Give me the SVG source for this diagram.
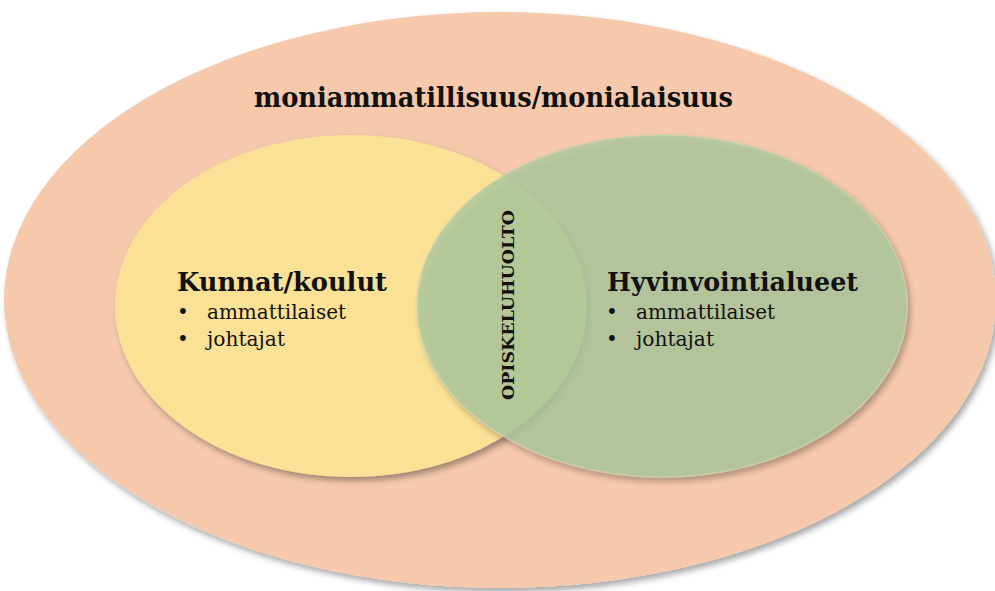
<svg xmlns="http://www.w3.org/2000/svg" width="995" height="591" viewBox="0 0 995 591">
<defs>
<filter id="sh" x="-10%" y="-10%" width="125%" height="125%">
<feGaussianBlur in="SourceAlpha" stdDeviation="3"/>
<feOffset dx="3" dy="4" result="b"/>
<feComponentTransfer><feFuncA type="linear" slope="0.35"/></feComponentTransfer>
<feMerge><feMergeNode/><feMergeNode in="SourceGraphic"/></feMerge>
</filter>
<style>
.t{font-family:"DejaVu Serif","Liberation Serif",serif;fill:#111;}
.b{font-weight:bold;}
.item{font-size:20px;}
</style>
</defs>
<rect width="995" height="591" fill="#ffffff"/>
<g id="outer">
<ellipse cx="500" cy="300" rx="496" ry="288" fill="#F6C9AC" filter="url(#sh)"/>
<text class="t b" x="254" y="107" font-size="27" textLength="479" lengthAdjust="spacingAndGlyphs">moniammatillisuus/monialaisuus</text>
</g>
<g id="kunnat">
<ellipse cx="351" cy="306" rx="236" ry="171" fill="#FBE196" filter="url(#sh)"/>
</g>
<g id="hyvinvointi">
<ellipse cx="662" cy="306" rx="245" ry="171" fill="#ACC99F" fill-opacity="0.8" stroke="#C8D6B0" stroke-opacity="0.6" stroke-width="1.5" filter="url(#sh)"/>
</g>
<g id="labels-kunnat">
<text class="t b" x="177" y="291" font-size="26" textLength="210" lengthAdjust="spacingAndGlyphs">Kunnat/koulut</text>
<text class="t item" x="177" y="319">•</text>
<text class="t item" x="207" y="319" textLength="139" lengthAdjust="spacingAndGlyphs">ammattilaiset</text>
<text class="t item" x="177" y="346">•</text>
<text class="t item" x="207" y="346" textLength="78" lengthAdjust="spacingAndGlyphs">johtajat</text>
</g>
<g id="labels-hyvinvointi">
<text class="t b" x="607" y="291" font-size="26" textLength="251" lengthAdjust="spacingAndGlyphs">Hyvinvointialueet</text>
<text class="t item" x="606" y="319">•</text>
<text class="t item" x="636" y="319" textLength="139" lengthAdjust="spacingAndGlyphs">ammattilaiset</text>
<text class="t item" x="606" y="346">•</text>
<text class="t item" x="636" y="346" textLength="78" lengthAdjust="spacingAndGlyphs">johtajat</text>
</g>
<g id="opiskeluhuolto">
<text class="t b" transform="translate(514 400) rotate(-90)" x="0" y="0" font-size="17" textLength="190" lengthAdjust="spacingAndGlyphs">OPISKELUHUOLTO</text>
</g>
<g id="connectors"></g>
</svg>
